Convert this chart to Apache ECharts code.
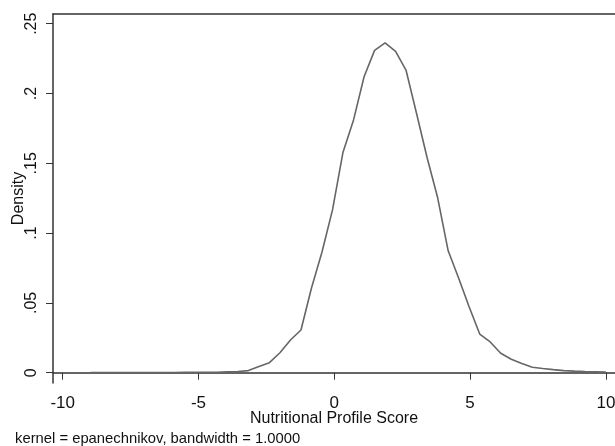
<!DOCTYPE html>
<html>
<head>
<meta charset="utf-8">
<script src="https://cdn.jsdelivr.net/npm/echarts@6/dist/echarts.min.js"></script>
<style>html,body{margin:0;padding:0;background:#fff}#c{width:615px;height:446px}</style>
</head>
<body>
<div id="c"></div>
<script>
// Kernel density evaluation grid (x) and estimated density values (y)
const xGrid = [-8.970, -8.583, -8.196, -7.809, -7.421, -7.034, -6.647, -6.260, -5.873, -5.486,
  -5.099, -4.711, -4.324, -3.937, -3.550, -3.163, -2.776, -2.389, -2.001, -1.614,
  -1.227, -0.840, -0.453, -0.066, 0.321, 0.709, 1.096, 1.483, 1.870, 2.257,
  2.644, 3.031, 3.418, 3.806, 4.193, 4.580, 4.967, 5.354, 5.741, 6.128,
  6.516, 6.903, 7.290, 7.677, 8.064, 8.451, 8.838, 9.226, 9.613, 10.000];
const density = [0.0001, 0.0001, 0.0001, 0.0001, 0.0001, 0.0001, 0.0001, 0.0001, 0.0001, 0.0002,
  0.0002, 0.0002, 0.0003, 0.0006, 0.0009, 0.0015, 0.0045, 0.0072, 0.0143, 0.0234,
  0.0306, 0.0607, 0.0865, 0.1166, 0.1580, 0.1811, 0.2120, 0.2309, 0.2362, 0.2301,
  0.2165, 0.1855, 0.1540, 0.1253, 0.0873, 0.0677, 0.0471, 0.0277, 0.0220, 0.0139,
  0.0096, 0.0066, 0.0039, 0.0030, 0.0022, 0.0015, 0.0011, 0.0008, 0.0006, 0.0004];
const xTicks = [-10, -5, 0, 5, 10];
const xTickLabels = ['-10', '-5', '0', '5', '10'];
const yTicks = [0, 0.05, 0.1, 0.15, 0.2, 0.25];
const yTickLabels = ['0', '.05', '.1', '.15', '.2', '.25'];
const xTitle = 'Nutritional Profile Score';
const yTitle = 'Density';
const note = 'kernel = epanechnikov, bandwidth = 1.0000';

const FONT = 'Liberation Sans, Arial, sans-serif';
const axisColor = '#333';
const chart = echarts.init(document.getElementById('c'), null, {renderer: 'canvas'});
const seriesData = xGrid.map((x, i) => [x, density[i]]);
const yMap = {}; yTicks.forEach((v, i) => yMap[v.toFixed(2)] = yTickLabels[i]);
const xMap = {}; xTicks.forEach((v, i) => xMap[String(v)] = xTickLabels[i]);

chart.setOption({
  animation: false,
  backgroundColor: '#fff',
  grid: {left: 53, top: 14, right: 0, bottom: 63, containLabel: false, outerBoundsMode: 'none'},
  xAxis: [{
    type: 'value', min: -10.357, max: 10.335,
    name: xTitle, nameLocation: 'middle', nameGap: 28, nameMoveOverlap: false,
    nameTextStyle: {fontFamily: FONT, fontSize: 16, color: '#111'},
    axisLine: {show: true, lineStyle: {color: axisColor, width: 1.5}},
    axisTick: {show: true, length: 7, customValues: xTicks, lineStyle: {color: axisColor, width: 1}},
    axisLabel: {customValues: xTicks, margin: 12, fontFamily: FONT, fontSize: 17, color: '#111',
      formatter: v => xMap[String(v)] !== undefined ? xMap[String(v)] : ''},
    splitLine: {show: false}
  }, {
    type: 'value', position: 'top', min: -10.357, max: 10.335,
    axisLine: {show: true, onZero: false, lineStyle: {color: axisColor, width: 1.5}},
    axisTick: {show: false}, axisLabel: {show: false}, splitLine: {show: false}
  }],
  yAxis: {
    type: 'value', min: -0.00738, max: 0.25695,
    name: yTitle, nameLocation: 'middle', nameGap: 26, nameRotate: 90, nameMoveOverlap: false,
    nameTextStyle: {fontFamily: FONT, fontSize: 16, color: '#111'},
    axisLine: {show: true, onZero: false, lineStyle: {color: axisColor, width: 1.5}},
    axisTick: {show: true, length: 7, customValues: yTicks, lineStyle: {color: axisColor, width: 1}},
    axisLabel: {customValues: yTicks, rotate: 90, margin: 13, fontFamily: FONT, fontSize: 16, color: '#111',
      formatter: v => yMap[Number(v).toFixed(2)] !== undefined ? yMap[Number(v).toFixed(2)] : ''},
    splitLine: {show: false}
  },
  graphic: [{
    type: 'text', left: 15, top: 431,
    style: {text: note, font: '14.8px ' + FONT, fill: '#111'}
  }],
  series: [{
    type: 'line', xAxisIndex: 0, data: seriesData, showSymbol: false, smooth: false,
    lineStyle: {color: '#666', width: 1.6}
  }]
});
</script>
</body>
</html>
